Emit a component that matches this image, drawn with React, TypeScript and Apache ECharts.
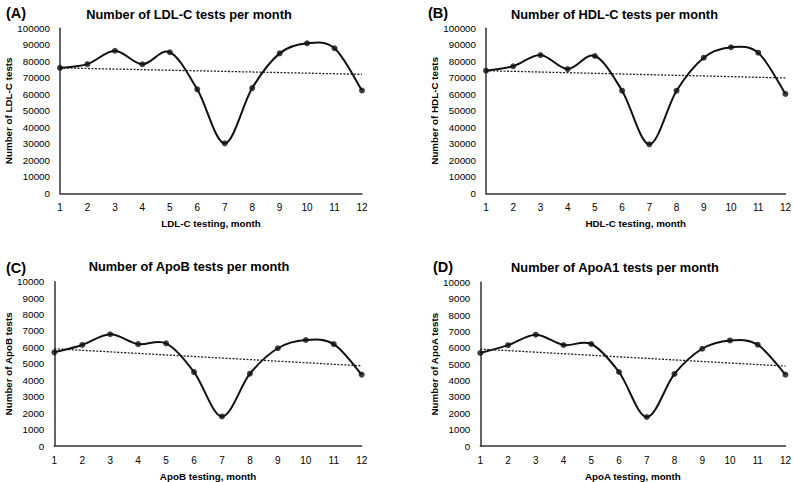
import React, { useEffect, useRef } from "react";
import * as echarts from "echarts";

const months = [1, 2, 3, 4, 5, 6, 7, 8, 9, 10, 11, 12];
const ldlValues = [76000, 78300, 86400, 78200, 85500, 63000, 30300, 63800, 84800, 90900, 87900, 62300];
const hdlValues = [74300, 77000, 83800, 75300, 83200, 62200, 29700, 62200, 82200, 88500, 85200, 60200];
const apobValues = [5700, 6150, 6800, 6200, 6250, 4500, 1800, 4400, 5950, 6450, 6200, 4350];
const apoa1Values = [5680, 6160, 6800, 6170, 6230, 4520, 1770, 4400, 5940, 6450, 6190, 4360];
const ldlTrend = [76000, 72100];
const hdlTrend = [74300, 69900];
const apobTrend = [5920, 4880];
const apoa1Trend = [5920, 4880];

const panelLabels = ["(A)", "(B)", "(C)", "(D)"];
const titles = [
  "Number of LDL-C tests per month",
  "Number of HDL-C tests per month",
  "Number of ApoB tests per month",
  "Number of ApoA1 tests per month",
];
const yNames = ["Number of LDL-C tests", "Number of HDL-C tests", "Number of ApoB tests", "Number of ApoA tests"];
const xNames = ["LDL-C testing, month", "HDL-C testing, month", "ApoB testing, month", "ApoA testing, month"];
const yMax = [100000, 100000, 10000, 10000];
const yStep = [10000, 10000, 1000, 1000];

const FONT = "Liberation Sans, Arial, sans-serif";

function smoothPath(pts: number[][], t: number): string {
  const n = pts.length;
  const P = (k: number) => pts[Math.max(0, Math.min(n - 1, k))];
  let d = `M${pts[0][0]},${pts[0][1]}`;
  for (let j = 0; j < n - 1; j++) {
    const p0 = P(j - 1), p1 = P(j), p2 = P(j + 1), p3 = P(j + 2);
    const c1x = p1[0] + (p2[0] - p0[0]) * t;
    const c1y = p1[1] + (p2[1] - p0[1]) * t;
    const c2x = p2[0] - (p3[0] - p1[0]) * t;
    const c2y = p2[1] - (p3[1] - p1[1]) * t;
    d += ` C${c1x},${c1y} ${c2x},${c2y} ${p2[0]},${p2[1]}`;
  }
  return d;
}

export default function App() {
  const ref = useRef<HTMLDivElement>(null);
  useEffect(() => {
    document.body.style.margin = "0";
    if (!ref.current) return;
    const chart = echarts.init(ref.current, undefined, { renderer: "svg" });

    const grids = [
      { left: 60, top: 28.3, width: 302, height: 165 },
      { left: 486, top: 28.3, width: 301, height: 165 },
      { left: 54.3, top: 281.7, width: 307.4, height: 165 },
      { left: 480.3, top: 282.3, width: 307.4, height: 164.4 },
    ];
    const yGaps = [46, 46, 41, 40];
    const titlePos = [
      { cx: 184, y: 3 },
      { cx: 609.5, y: 3 },
      { cx: 184, y: 255 },
      { cx: 610, y: 256 },
    ];
    const labelPos = [
      { x: 1, y: 0 },
      { x: 423, y: 0 },
      { x: 1, y: 255 },
      { x: 428, y: 254 },
    ];
    const values = [ldlValues, hdlValues, apobValues, apoa1Values];
    const trends = [ldlTrend, hdlTrend, apobTrend, apoa1Trend];

    const title: any[] = [];
    const xAxis: any[] = [];
    const yAxis: any[] = [];
    const series: any[] = [];
    for (let i = 0; i < 4; i++) {
      const vals = values[i];
      title.push({
        text: titles[i],
        left: titlePos[i].cx,
        top: titlePos[i].y,
        textAlign: "center",
        textStyle: { fontFamily: FONT, fontSize: 12.8, fontWeight: "bold", color: "#000" },
      });
      title.push({
        text: panelLabels[i],
        left: labelPos[i].x,
        top: labelPos[i].y,
        textStyle: { fontFamily: FONT, fontSize: 14.5, fontWeight: "bold", color: "#000" },
      });
      xAxis.push({
        type: "value",
        gridIndex: i,
        min: 1,
        max: 12,
        interval: 1,
        name: xNames[i],
        nameLocation: "middle",
        nameGap: 25,
        nameTextStyle: { fontFamily: FONT, fontSize: 9.8, fontWeight: "bold", color: "#000" },
        axisLine: { lineStyle: { color: "#333", width: 1.5 } },
        axisTick: { show: false },
        splitLine: { show: false },
        axisLabel: { fontFamily: FONT, fontSize: 10, color: "#000", margin: 9 },
      });
      yAxis.push({
        type: "value",
        gridIndex: i,
        min: 0,
        max: yMax[i],
        interval: yStep[i],
        name: yNames[i],
        nameLocation: "middle",
        nameRotate: 90,
        nameGap: yGaps[i],
        nameTextStyle: { fontFamily: FONT, fontSize: 9.8, fontWeight: "bold", color: "#000" },
        axisLine: { show: true, lineStyle: { color: "#333", width: 1.5 } },
        axisTick: { show: false },
        splitLine: { show: false },
        axisLabel: {
          fontFamily: FONT,
          fontSize: 9.8,
          color: "#000",
          margin: 10,
          formatter: (v: number) => String(v),
        },
      });
      series.push({
        type: "line",
        xAxisIndex: i,
        yAxisIndex: i,
        data: [
          [months[0], trends[i][0]],
          [months[months.length - 1], trends[i][1]],
        ],
        symbol: "none",
        lineStyle: { color: "#222", width: 1.3, type: [2, 1.5] },
        z: 1,
        silent: true,
      });
      series.push({
        type: "custom",
        xAxisIndex: i,
        yAxisIndex: i,
        data: [[months[0], vals[0]]],
        silent: true,
        z: 2,
        renderItem: (_params: any, api: any) => {
          const pts = months.map((m, k) => api.coord([m, vals[k]]));
          return {
            type: "path",
            shape: { pathData: smoothPath(pts, 1 / 6) },
            style: { fill: "none", stroke: "#111", lineWidth: 2 },
          };
        },
      });
      series.push({
        type: "scatter",
        xAxisIndex: i,
        yAxisIndex: i,
        data: months.map((m, k) => [m, vals[k]]),
        symbol: "circle",
        symbolSize: 6,
        itemStyle: { color: "#111" },
        z: 3,
      });
    }

    chart.setOption({
      animation: false,
      backgroundColor: "#fff",
      title,
      grid: grids,
      xAxis,
      yAxis,
      series,
    });
    return () => chart.dispose();
  }, []);
  return <div ref={ref} style={{ width: 794, height: 482 }} />;
}
